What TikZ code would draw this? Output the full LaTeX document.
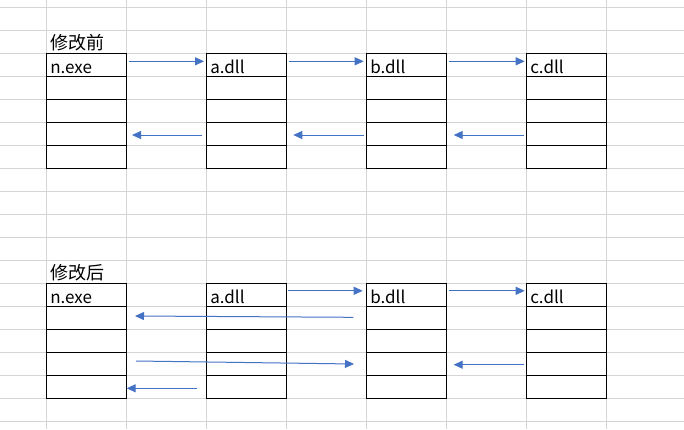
\documentclass[tikz,border=0pt]{standalone}
\usepackage{fontspec}
\setmainfont{Noto Sans CJK SC}
\usepackage{tikz}
\usetikzlibrary{arrows.meta}

\definecolor{gridColor}{RGB}{212,212,212}
\definecolor{linkColor}{RGB}{68,114,196}

\tikzset{
  grid line/.style={draw=gridColor,line width=1pt},
  cell/.style={draw=black,line width=1pt,rectangle,minimum width=80pt,minimum height=23pt,inner sep=0pt,outer sep=0pt},
  celltext/.style={anchor=base west,inner sep=0pt,outer sep=0pt,font=\fontsize{17}{20}\selectfont},
  title/.style={anchor=base west,inner sep=0pt,outer sep=0pt,font=\fontsize{18}{21}\selectfont},
  link/.style={draw=linkColor,line width=1pt,-{Triangle[length=9pt,width=8pt]}}
}

\begin{document}
\begin{tikzpicture}[x=1pt,y=-1pt]
\path[use as bounding box,fill=white] (0,0) rectangle (684,429);

% sheet grid
\foreach \k in {0,...,7}
  \draw[grid line] ({46.5+80*\k},0) -- ({46.5+80*\k},429);
\foreach \k in {0,...,18}
  \draw[grid line] (0,{7.3+23*\k}) -- (684,{7.3+23*\k});

% modules, five rows each
\foreach \m/\x in {exe/86.5,a/246.5,b/406.5,c/566.5} {
  \foreach \r in {1,...,5} {
    \node[cell] (pre\m\r) at (\x,{41.8+23*\r}) {};
    \node[cell] (post\m\r) at (\x,{271.8+23*\r}) {};
  }
}

% titles
\node[title] (pretitle) at ([xshift=3.5pt,yshift=3.8pt]preexe1.north west) {修改前};
\node[title] (posttitle) at ([xshift=3.5pt,yshift=3.8pt]postexe1.north west) {修改后};

% module names
\foreach \m/\t in {exe/n.exe,a/a.dll,b/b.dll,c/c.dll} {
  \node[celltext] (pre\m name) at ([xshift=3.8pt,yshift=3pt]pre\m1.south west) {\t};
  \node[celltext] (post\m name) at ([xshift=3.8pt,yshift=3pt]post\m1.south west) {\t};
}

% before
\draw[link] ([xshift=2.8pt,yshift=3.5pt]preexe1.east) -- ([xshift=-2.5pt,yshift=3.5pt]prea1.west);
\draw[link] ([xshift=2.8pt,yshift=3.5pt]prea1.east) -- ([xshift=-2.8pt,yshift=3.5pt]preb1.west);
\draw[link] ([xshift=2.8pt,yshift=3.5pt]preb1.east) -- ([xshift=-1.8pt,yshift=3.5pt]prec1.west);
\draw[link] ([xshift=-4.8pt,yshift=-1.2pt]prea4.west) -- ([xshift=5.5pt,yshift=-1.2pt]preexe4.east);
\draw[link] ([xshift=-2.8pt,yshift=-1.2pt]preb4.west) -- ([xshift=6.8pt,yshift=-1.2pt]prea4.east);
\draw[link] ([xshift=-2.8pt,yshift=-1.2pt]prec4.west) -- ([xshift=7.2pt,yshift=-1.2pt]preb4.east);

% after
\draw[link] ([xshift=1.8pt,yshift=4pt]posta1.east) -- ([xshift=-3.8pt,yshift=4pt]postb1.west);
\draw[link] ([xshift=2.8pt,yshift=4pt]postb1.east) -- ([xshift=-1.8pt,yshift=4pt]postc1.west);
\draw[link] ([xshift=-13.2pt,yshift=0.5pt]postb2.west) -- ([xshift=8.5pt,yshift=1.8pt]postexe2.east);
\draw[link] ([xshift=9.5pt,yshift=2.8pt]postexe4.east) -- ([xshift=-12.5pt,yshift=-0.2pt]postb4.west);
\draw[link] ([xshift=-2.8pt,yshift=-0.9pt]postc4.west) -- ([xshift=7.2pt,yshift=-0.9pt]postb4.east);
\draw[link] ([xshift=-9.8pt,yshift=-1.5pt]posta5.west) -- ([xshift=0.2pt,yshift=-1.5pt]postexe5.east);
\end{tikzpicture}
\end{document}
